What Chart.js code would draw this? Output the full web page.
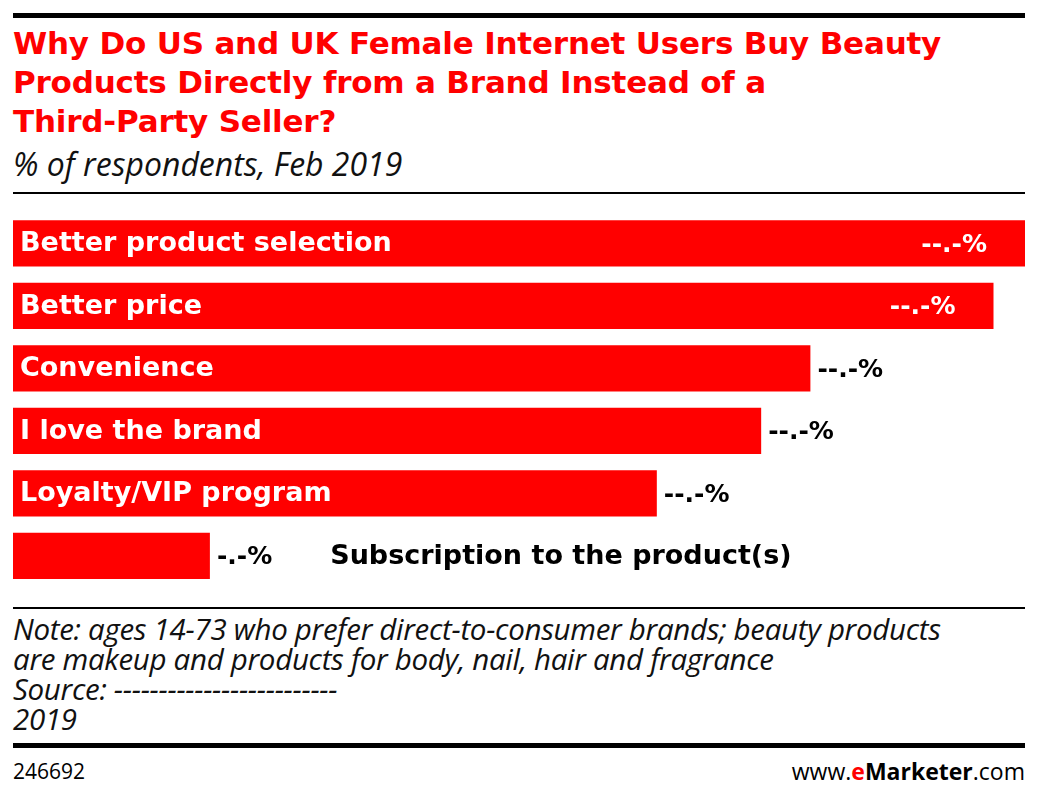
<!DOCTYPE html>
<html><head><meta charset="utf-8">
<script src="https://cdn.jsdelivr.net/npm/chart.js@4"></script>
<style>
body{margin:0;width:1041px;height:796px;background:#fff;position:relative;font-family:"DejaVu Sans",sans-serif;overflow:hidden}
.abs{position:absolute}
#title{left:13px;top:24px;width:1030px;white-space:nowrap;color:#f00;font-weight:bold;font-size:31px;line-height:39px;letter-spacing:-0.2px}
#sub{left:13px;top:142px;font-style:italic;font-size:32px;color:#111;font-family:"Open Sans",sans-serif}
#note{left:13px;top:614px;white-space:nowrap;font-style:italic;font-size:29.5px;line-height:30px;color:#111;font-family:"Open Sans",sans-serif;letter-spacing:-0.3px}
.rule{position:absolute;left:13px;width:1012px;background:#000}
#wrap{left:13px;top:212px;width:1012px;height:375px}
#foot1{left:13px;top:757px;font-size:21px;font-family:"Open Sans",sans-serif}
#foot2{right:16px;top:755px;font-size:23px;font-family:"Open Sans",sans-serif}
</style></head><body>
<div class="rule" style="top:13px;height:5px"></div>
<div id="title" class="abs">Why Do US and UK Female Internet Users Buy Beauty<br>Products Directly from a Brand Instead of a<br>Third-Party Seller?</div>
<div id="sub" class="abs">% of respondents, Feb 2019</div>
<div class="rule" style="top:192px;height:2px"></div>
<div id="wrap" class="abs"><canvas id="c"></canvas></div>
<div class="rule" style="top:607px;height:2px"></div>
<div id="note" class="abs">Note: ages 14-73 who prefer direct-to-consumer brands; beauty products<br>are makeup and products for body, nail, hair and fragrance<br>Source: -------------------------<br>2019</div>
<div class="rule" style="top:743px;height:5px"></div>
<div id="foot1" class="abs">246692</div>
<div id="foot2" class="abs">www.<b style="color:#f00">e</b><b>Marketer</b>.com</div>
<script>
const categories=["Better product selection","Better price","Convenience","I love the brand","Loyalty/VIP program","Subscription to the product(s)"];
const values=[51.4,49.8,40.5,38.0,32.7,10.0];
const valueLabels=["--.-%","--.-%","--.-%","--.-%","--.-%","-.-%"];
const labelPlugin={id:"lbl",afterDatasetsDraw(chart){
 const ctx=chart.ctx;const meta=chart.getDatasetMeta(0);
 ctx.save();ctx.textBaseline="middle";
 meta.data.forEach((bar,i)=>{
  const y=bar.y;const left=bar.base;const right=bar.x;
  const inside=i<2;
  ctx.font="bold 25px 'DejaVu Sans', sans-serif";
  const vw=ctx.measureText(valueLabels[i]).width;
  let vx;
  if(inside){ctx.fillStyle="#fff";vx=right-vw-38;}else{ctx.fillStyle="#000";vx=right+7;}
  ctx.textAlign="left";ctx.fillText(valueLabels[i],vx,y+2);
  ctx.font="bold 27px 'DejaVu Sans', sans-serif";
  if(i<5){ctx.fillStyle="#fff";ctx.fillText(categories[i],left+7,y+1);}
  else{ctx.fillStyle="#000";ctx.fillText(categories[i],vx+vw+58,y+1);}
 });ctx.restore();}};
new Chart(document.getElementById("c"),{type:"bar",
 data:{labels:categories,datasets:[{data:values,backgroundColor:"#f00",categoryPercentage:1,barPercentage:0.74}]},
 options:{indexAxis:"y",responsive:true,maintainAspectRatio:false,animation:false,
  layout:{padding:0},
  plugins:{legend:{display:false},tooltip:{enabled:false}},
  scales:{x:{display:false,min:0,max:51.4},y:{display:false}}},
 plugins:[labelPlugin]});
</script></body></html>
